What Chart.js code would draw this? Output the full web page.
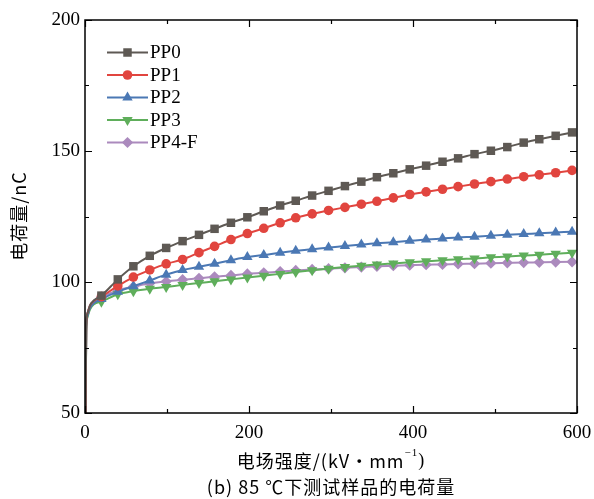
<!DOCTYPE html>
<html>
<head>
<meta charset="utf-8">
<script src="https://cdn.jsdelivr.net/npm/chart.js@4/dist/chart.umd.min.js"></script>
<style>
html,body{margin:0;padding:0;background:#fff;}
#wrap{width:594px;height:499px;}
</style>
</head>
<body>
<div id="wrap"><canvas id="c" width="594" height="499"></canvas></div>
<script>
// Electric field (kV/mm): first points are the steep start of the curves (no markers), then marked samples
const fieldEarly = [0.8, 1.5, 3, 6, 11];
const fieldMarked = [20, 40, 59, 79, 99, 119, 139, 158, 178, 198, 218, 238, 257, 277, 297, 317, 337, 356, 376, 396, 416, 436, 455, 475, 495, 515, 535, 554, 574, 594];

const seriesNames = ['PP0', 'PP1', 'PP2', 'PP3', 'PP4-F'];

const pp0Early = [50, 83, 88, 91, 93];
const pp0 = [94.8, 101.0, 106.0, 110.0, 113.0, 115.6, 118.0, 120.3, 122.6, 124.7, 127.0, 129.2, 131.0, 133.0, 134.8, 136.6, 138.3, 140.0, 141.5, 143.0, 144.4, 145.9, 147.2, 148.8, 150.1, 151.5, 153.2, 154.5, 155.8, 157.1];

const pp1Early = [50, 83, 88, 91, 92.8];
const pp1 = [94.4, 98.5, 101.9, 104.6, 106.9, 108.6, 111.2, 113.6, 116.2, 118.5, 120.5, 122.6, 124.5, 126.0, 127.3, 128.5, 129.7, 130.8, 132.1, 133.4, 134.4, 135.4, 136.4, 137.4, 138.3, 139.3, 140.2, 140.9, 141.7, 142.6];

const pp2Early = [50, 82, 87, 90, 92];
const pp2 = [93.5, 96.3, 98.4, 100.6, 102.8, 104.6, 105.8, 107.0, 108.3, 109.5, 110.3, 111.2, 111.9, 112.5, 113.2, 113.7, 114.3, 114.8, 115.2, 115.7, 116.2, 116.6, 117.0, 117.3, 117.7, 118.0, 118.3, 118.6, 118.9, 119.2];

const pp3Early = [50, 81, 86.5, 89.5, 91.5];
const pp3 = [92.5, 95.3, 96.5, 97.4, 98.1, 98.9, 99.6, 100.3, 101.0, 101.7, 102.4, 103.1, 103.8, 104.5, 105.1, 105.7, 106.2, 106.7, 107.1, 107.5, 107.9, 108.3, 108.7, 109.0, 109.4, 109.7, 110.1, 110.4, 110.8, 111.2];

const pp4Early = [50, 83, 88, 91, 92.8];
const pp4 = [94.2, 96.9, 98.2, 99.5, 100.2, 100.9, 101.4, 102.0, 102.5, 103.1, 103.5, 104.0, 104.4, 104.8, 105.1, 105.4, 105.7, 106.0, 106.2, 106.4, 106.6, 106.7, 106.9, 107.0, 107.2, 107.3, 107.4, 107.5, 107.6, 107.7];

const xTicks = [0, 200, 400, 600];
const yTicks = [50, 100, 150, 200];

const styles = [
  {color:'#5e5954', pointStyle:'rect', radius:6, rotation:0},
  {color:'#e1453f', pointStyle:'circle', radius:4.8, rotation:0},
  {color:'#4b78b4', pointStyle:'triangle', radius:6, rotation:0},
  {color:'#5fae5b', pointStyle:'triangle', radius:6, rotation:180},
  {color:'#ab8abd', pointStyle:'rectRot', radius:5.6, rotation:0}
];

function build(early, marked) {
  const pts = [];
  early.forEach((v, i) => pts.push({x: fieldEarly[i], y: v}));
  marked.forEach((v, i) => pts.push({x: fieldMarked[i], y: v}));
  return pts;
}
const allSeries = [[pp0Early, pp0], [pp1Early, pp1], [pp2Early, pp2], [pp3Early, pp3], [pp4Early, pp4]];

const datasets = allSeries.map((s, i) => {
  const st = styles[i];
  return {
    label: seriesNames[i],
    data: build(s[0], s[1]),
    borderColor: st.color,
    backgroundColor: st.color,
    borderWidth: 2,
    pointStyle: st.pointStyle,
    pointRotation: st.rotation,
    pointRadius: (ctx) => ctx.dataIndex < fieldEarly.length ? 0 : st.radius,
    pointBorderWidth: 0,
    pointHoverRadius: 0,
    cubicInterpolationMode: 'monotone',
    fill: false
  };
});

const serif = "'Liberation Serif', 'DejaVu Serif', serif";
const cjk = "'Noto Sans CJK SC', 'Liberation Serif', serif";

const framePlugin = {
  id: 'frame',
  afterDatasetsDraw(chart) {
    const {ctx, chartArea: a, scales: {x, y}} = chart;
    ctx.save();
    ctx.strokeStyle = '#000';
    ctx.lineWidth = 1.5;
    ctx.strokeRect(a.left, a.top, a.right - a.left, a.bottom - a.top);
    ctx.lineWidth = 1.2;
    ctx.beginPath();
    for (let v = 0; v <= 600; v += 100) {
      const px = Math.round(x.getPixelForValue(v)) + 0.5;
      const len = (v % 200 === 0) ? 7 : 4;
      ctx.moveTo(px, a.bottom); ctx.lineTo(px, a.bottom - len);
      ctx.moveTo(px, a.top); ctx.lineTo(px, a.top + len);
    }
    for (let v = 50; v <= 200; v += 25) {
      const py = Math.round(y.getPixelForValue(v)) + 0.5;
      const len = (v % 50 === 0) ? 7 : 4;
      ctx.moveTo(a.left, py); ctx.lineTo(a.left + len, py);
      ctx.moveTo(a.right, py); ctx.lineTo(a.right - len, py);
    }
    ctx.stroke();

    // legend
    const lx0 = 107, lx1 = 148, ly0 = 52.5, dy = 22.5;
    chart.data.datasets.forEach((ds, i) => {
      const st = styles[i];
      const yy = ly0 + i * dy;
      ctx.strokeStyle = st.color;
      ctx.fillStyle = st.color;
      ctx.lineWidth = 2;
      ctx.beginPath(); ctx.moveTo(lx0, yy); ctx.lineTo(lx1, yy); ctx.stroke();
      Chart.helpers.drawPoint(ctx, {pointStyle: st.pointStyle, radius: st.radius, rotation: st.rotation, borderWidth: 0}, (lx0 + lx1) / 2, yy);
      ctx.fillStyle = '#000';
      ctx.font = "19px " + serif;
      ctx.textAlign = 'left';
      ctx.textBaseline = 'middle';
      ctx.fillText(ds.label, lx1 + 2, yy + 1);
    });

    // axis titles and caption
    ctx.fillStyle = '#000';
    ctx.textBaseline = 'middle';
    ctx.letterSpacing = '1px';
    ctx.font = "18px " + cjk;
    const titleMain = '电场强度/(kV·mm';
    const wMain = ctx.measureText(titleMain).width;
    ctx.font = "11px " + serif;
    const wSup = ctx.measureText('−1').width;
    ctx.font = "18px " + serif;
    const wClose = ctx.measureText(')').width;
    const total = wMain + wSup + wClose;
    let sx = 331 - total / 2;
    ctx.textAlign = 'left';
    ctx.font = "18px " + cjk;
    ctx.fillText(titleMain, sx, 461);
    sx += wMain;
    ctx.font = "11px " + serif;
    ctx.fillText('−1', sx, 453);
    sx += wSup;
    ctx.font = "18px " + serif;
    ctx.fillText(')', sx, 461);

    ctx.textAlign = 'center';
    ctx.font = "18px " + cjk;
    ctx.letterSpacing = '1px';
    ctx.fillText('(b) 85 ℃下测试样品的电荷量', 331, 487);

    ctx.letterSpacing = '1px';
    ctx.translate(19, 216);
    ctx.rotate(-Math.PI / 2);
    ctx.font = "18px " + cjk;
    ctx.fillText('电荷量/nC', 0, 0);
    ctx.restore();
  }
};

new Chart(document.getElementById('c'), {
  type: 'line',
  data: {datasets},
  options: {
    responsive: false,
    devicePixelRatio: 1,
    animation: false,
    events: [],
    layout: {padding: {top: 20, right: 17, left: 0, bottom: 0}},
    plugins: {legend: {display: false}, tooltip: {enabled: false}, title: {display: false}},
    scales: {
      x: {
        type: 'linear', min: 0, max: 600,
        afterBuildTicks: (s) => { s.ticks = xTicks.map(v => ({value: v})); },
        afterFit: (s) => { s.height = 86; s.paddingRight = 0; s.paddingLeft = 0; },
        grid: {display: false, drawTicks: false},
        border: {display: false},
        ticks: {padding: 9, color: '#000', font: {family: serif, size: 19}, maxRotation: 0}
      },
      y: {
        type: 'linear', min: 50, max: 200,
        afterBuildTicks: (s) => { s.ticks = yTicks.map(v => ({value: v})); },
        afterFit: (s) => { s.width = 85; s.paddingTop = 0; s.paddingBottom = 0; },
        grid: {display: false, drawTicks: false},
        border: {display: false},
        ticks: {padding: 5, color: '#000', font: {family: serif, size: 19}}
      }
    }
  },
  plugins: [framePlugin]
});
</script>
</body>
</html>
